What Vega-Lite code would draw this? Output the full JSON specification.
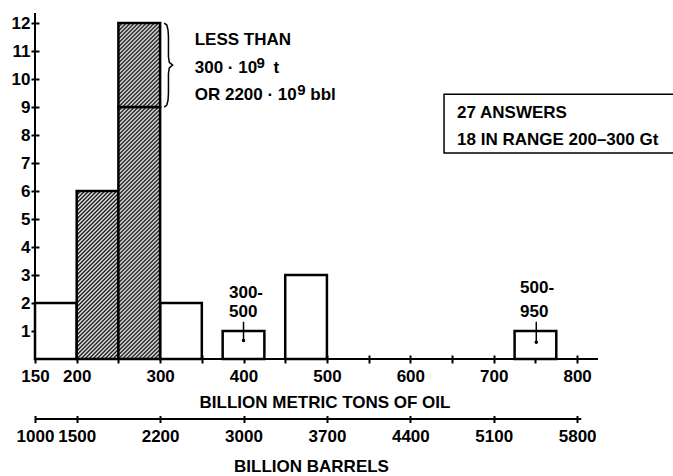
{
  "$schema": "https://vega.github.io/schema/vega-lite/v6.json",
  "width": 563,
  "height": 346,
  "autosize": "none",
  "padding": {"left": 35, "top": 13, "right": 75, "bottom": 117},
  "background": "white",
  "config": {
    "view": {"stroke": null},
    "axis": {
      "labelFont": "Liberation Sans, Arial, sans-serif",
      "labelFontSize": 17,
      "labelFontWeight": "bold",
      "labelColor": "#000",
      "titleFont": "Liberation Sans, Arial, sans-serif",
      "titleFontSize": 17,
      "titleFontWeight": "bold",
      "titleColor": "#000",
      "tickColor": "#000",
      "tickWidth": 2,
      "grid": false,
      "labelFlush": false,
      "labelOverlap": false
    }
  },
  "datasets": {
    "bars": [
      {"x0": 150, "x1": 200, "n0": 0, "n1": 2, "group": "open"},
      {"x0": 300, "x1": 350, "n0": 0, "n1": 2, "group": "open"},
      {"x0": 375, "x1": 425, "n0": 0, "n1": 1, "group": "open"},
      {"x0": 450, "x1": 500, "n0": 0, "n1": 3, "group": "open"},
      {"x0": 725, "x1": 775, "n0": 0, "n1": 1, "group": "open"},
      {"x0": 200, "x1": 250, "n0": 0, "n1": 6, "group": "A"},
      {"x0": 250, "x1": 300, "n0": 0, "n1": 9, "group": "B"},
      {"x0": 250, "x1": 300, "n0": 9, "n1": 12, "group": "C"}
    ],
    "axislines": [
      {"x0": 150, "x1": 825, "n0": 0, "n1": 0},
      {"x0": 150, "x1": 150, "n0": 0, "n1": 12.36},
      {"x0": 150, "x1": 805, "n0": -2.143, "n1": -2.143}
    ],
    "brace": [
      {"i": 0, "x": 305, "y": 12.0},
      {"i": 1, "x": 308, "y": 11.93},
      {"i": 2, "x": 309.5, "y": 11.75},
      {"i": 3, "x": 310, "y": 11.5},
      {"i": 4, "x": 310, "y": 10.8},
      {"i": 5, "x": 311, "y": 10.6},
      {"i": 6, "x": 315, "y": 10.5},
      {"i": 7, "x": 311, "y": 10.4},
      {"i": 8, "x": 310, "y": 10.2},
      {"i": 9, "x": 310, "y": 9.5},
      {"i": 10, "x": 309.5, "y": 9.25},
      {"i": 11, "x": 308, "y": 9.07},
      {"i": 12, "x": 305, "y": 9.0}
    ],
    "notes": [
      {"x": 341.5, "y": 11.2, "text": "LESS THAN"},
      {"x": 341.5, "y": 10.2, "text": "300 · 10"},
      {"x": 436, "y": 10.2, "text": "t"},
      {"x": 341.5, "y": 9.25, "text": "OR 2200 · 10"},
      {"x": 480, "y": 9.25, "text": "bbl"},
      {"x": 656, "y": 8.61, "text": "27 ANSWERS"},
      {"x": 656, "y": 7.64, "text": "18 IN RANGE 200–300 Gt"},
      {"x": 382.6, "y": 2.18, "text": "300-"},
      {"x": 382.6, "y": 1.5, "text": "500"},
      {"x": 731.5, "y": 2.36, "text": "500-"},
      {"x": 731.5, "y": 1.5, "text": "950"}
    ],
    "sups": [
      {"x": 415.5, "y": 10.38, "text": "9"},
      {"x": 464.5, "y": 9.43, "text": "9"}
    ],
    "pointers": [
      {"x": 400, "y0": 1.33, "y1": 0.66},
      {"x": 751, "y0": 1.33, "y1": 0.6}
    ],
    "box": [
      {"x0": 640.4, "x1": 960, "n0": 7.36, "n1": 9.46}
    ]
  },
  "resolve": {"axis": {"x": "independent", "y": "independent"}},
  "layer": [
    {
      "data": {"name": "bars"},
      "transform": [{"filter": "datum.group === 'open'"}],
      "mark": {"type": "rect", "fill": "white", "stroke": "black", "strokeWidth": 2.5},
      "encoding": {
        "x": {
          "field": "x0", "type": "quantitative",
          "scale": {"domain": [150, 825], "nice": false, "zero": false},
          "axis": {
            "title": "BILLION METRIC TONS OF OIL",
            "values": [150, 200, 250, 300, 350, 400, 450, 500, 550, 600, 650, 700, 750, 800],
            "labelExpr": "datum.value == 150 || datum.value % 100 == 0 ? datum.label : ''",
            "offset": -4, "tickSize": 8, "domain": false, "labelPadding": 5.5,
            "titleY": 52, "titleBaseline": "alphabetic", "titleX": 289.5, "titleAlign": "center"
          }
        },
        "x2": {"field": "x1"},
        "y": {
          "field": "n0", "type": "quantitative",
          "scale": {"domain": [0, 12.36], "nice": false, "zero": false},
          "axis": {
            "title": null,
            "values": [1, 2, 3, 4, 5, 6, 7, 8, 9, 10, 11, 12],
            "offset": -4, "tickSize": 8, "domain": false, "labelPadding": 1
          }
        },
        "y2": {"field": "n1"}
      }
    },
    {
      "data": {"name": "bars"},
      "transform": [{"filter": "datum.group === 'A'"}],
      "mark": {"type": "rect", "stroke": "black", "strokeWidth": 2.5,
        "fill": {"gradient": "linear", "x1": 0, "y1": 0, "x2": 0.4454, "y2": 1.7942, "stops": [
          {"offset":0,"color":"#000"},{"offset":0.00625,"color":"#fff"},{"offset":0.0125,"color":"#000"},{"offset":0.01875,"color":"#fff"},{"offset":0.025,"color":"#000"},{"offset":0.03125,"color":"#fff"},{"offset":0.0375,"color":"#000"},{"offset":0.04375,"color":"#fff"},
          {"offset":0.05,"color":"#000"},{"offset":0.05625,"color":"#fff"},{"offset":0.0625,"color":"#000"},{"offset":0.06875,"color":"#fff"},{"offset":0.075,"color":"#000"},{"offset":0.08125,"color":"#fff"},{"offset":0.0875,"color":"#000"},{"offset":0.09375,"color":"#fff"},
          {"offset":0.1,"color":"#000"},{"offset":0.10625,"color":"#fff"},{"offset":0.1125,"color":"#000"},{"offset":0.11875,"color":"#fff"},{"offset":0.125,"color":"#000"},{"offset":0.13125,"color":"#fff"},{"offset":0.1375,"color":"#000"},{"offset":0.14375,"color":"#fff"},
          {"offset":0.15,"color":"#000"},{"offset":0.15625,"color":"#fff"},{"offset":0.1625,"color":"#000"},{"offset":0.16875,"color":"#fff"},{"offset":0.175,"color":"#000"},{"offset":0.18125,"color":"#fff"},{"offset":0.1875,"color":"#000"},{"offset":0.19375,"color":"#fff"},
          {"offset":0.2,"color":"#000"},{"offset":0.20625,"color":"#fff"},{"offset":0.2125,"color":"#000"},{"offset":0.21875,"color":"#fff"},{"offset":0.225,"color":"#000"},{"offset":0.23125,"color":"#fff"},{"offset":0.2375,"color":"#000"},{"offset":0.24375,"color":"#fff"},
          {"offset":0.25,"color":"#000"},{"offset":0.25625,"color":"#fff"},{"offset":0.2625,"color":"#000"},{"offset":0.26875,"color":"#fff"},{"offset":0.275,"color":"#000"},{"offset":0.28125,"color":"#fff"},{"offset":0.2875,"color":"#000"},{"offset":0.29375,"color":"#fff"},
          {"offset":0.3,"color":"#000"},{"offset":0.30625,"color":"#fff"},{"offset":0.3125,"color":"#000"},{"offset":0.31875,"color":"#fff"},{"offset":0.325,"color":"#000"},{"offset":0.33125,"color":"#fff"},{"offset":0.3375,"color":"#000"},{"offset":0.34375,"color":"#fff"},
          {"offset":0.35,"color":"#000"},{"offset":0.35625,"color":"#fff"},{"offset":0.3625,"color":"#000"},{"offset":0.36875,"color":"#fff"},{"offset":0.375,"color":"#000"},{"offset":0.38125,"color":"#fff"},{"offset":0.3875,"color":"#000"},{"offset":0.39375,"color":"#fff"},
          {"offset":0.4,"color":"#000"},{"offset":0.40625,"color":"#fff"},{"offset":0.4125,"color":"#000"},{"offset":0.41875,"color":"#fff"},{"offset":0.425,"color":"#000"},{"offset":0.43125,"color":"#fff"},{"offset":0.4375,"color":"#000"},{"offset":0.44375,"color":"#fff"},
          {"offset":0.45,"color":"#000"},{"offset":0.45625,"color":"#fff"},{"offset":0.4625,"color":"#000"},{"offset":0.46875,"color":"#fff"},{"offset":0.475,"color":"#000"},{"offset":0.48125,"color":"#fff"},{"offset":0.4875,"color":"#000"},{"offset":0.49375,"color":"#fff"},
          {"offset":0.5,"color":"#000"},{"offset":0.50625,"color":"#fff"},{"offset":0.5125,"color":"#000"},{"offset":0.51875,"color":"#fff"},{"offset":0.525,"color":"#000"},{"offset":0.53125,"color":"#fff"},{"offset":0.5375,"color":"#000"},{"offset":0.54375,"color":"#fff"},
          {"offset":0.55,"color":"#000"},{"offset":0.55625,"color":"#fff"},{"offset":0.5625,"color":"#000"},{"offset":0.56875,"color":"#fff"},{"offset":0.575,"color":"#000"},{"offset":0.58125,"color":"#fff"},{"offset":0.5875,"color":"#000"},{"offset":0.59375,"color":"#fff"},
          {"offset":0.6,"color":"#000"},{"offset":0.60625,"color":"#fff"},{"offset":0.6125,"color":"#000"},{"offset":0.61875,"color":"#fff"},{"offset":0.625,"color":"#000"},{"offset":0.63125,"color":"#fff"},{"offset":0.6375,"color":"#000"},{"offset":0.64375,"color":"#fff"},
          {"offset":0.65,"color":"#000"},{"offset":0.65625,"color":"#fff"},{"offset":0.6625,"color":"#000"},{"offset":0.66875,"color":"#fff"}
        ]}
      },
      "encoding": {
        "x": {"field": "x0", "type": "quantitative", "axis": null},
        "x2": {"field": "x1"},
        "y": {"field": "n0", "type": "quantitative", "axis": null},
        "y2": {"field": "n1"}
      }
    },
    {
      "data": {"name": "bars"},
      "transform": [{"filter": "datum.group === 'B'"}],
      "mark": {"type": "rect", "stroke": "black", "strokeWidth": 2.5,
        "fill": {"gradient": "linear", "x1": 0, "y1": 0, "x2": 0.20453, "y2": 1.23598, "stops": [
          {"offset":0,"color":"#000"},{"offset":0.00625,"color":"#fff"},{"offset":0.0125,"color":"#000"},{"offset":0.01875,"color":"#fff"},{"offset":0.025,"color":"#000"},{"offset":0.03125,"color":"#fff"},{"offset":0.0375,"color":"#000"},{"offset":0.04375,"color":"#fff"},
          {"offset":0.05,"color":"#000"},{"offset":0.05625,"color":"#fff"},{"offset":0.0625,"color":"#000"},{"offset":0.06875,"color":"#fff"},{"offset":0.075,"color":"#000"},{"offset":0.08125,"color":"#fff"},{"offset":0.0875,"color":"#000"},{"offset":0.09375,"color":"#fff"},
          {"offset":0.1,"color":"#000"},{"offset":0.10625,"color":"#fff"},{"offset":0.1125,"color":"#000"},{"offset":0.11875,"color":"#fff"},{"offset":0.125,"color":"#000"},{"offset":0.13125,"color":"#fff"},{"offset":0.1375,"color":"#000"},{"offset":0.14375,"color":"#fff"},
          {"offset":0.15,"color":"#000"},{"offset":0.15625,"color":"#fff"},{"offset":0.1625,"color":"#000"},{"offset":0.16875,"color":"#fff"},{"offset":0.175,"color":"#000"},{"offset":0.18125,"color":"#fff"},{"offset":0.1875,"color":"#000"},{"offset":0.19375,"color":"#fff"},
          {"offset":0.2,"color":"#000"},{"offset":0.20625,"color":"#fff"},{"offset":0.2125,"color":"#000"},{"offset":0.21875,"color":"#fff"},{"offset":0.225,"color":"#000"},{"offset":0.23125,"color":"#fff"},{"offset":0.2375,"color":"#000"},{"offset":0.24375,"color":"#fff"},
          {"offset":0.25,"color":"#000"},{"offset":0.25625,"color":"#fff"},{"offset":0.2625,"color":"#000"},{"offset":0.26875,"color":"#fff"},{"offset":0.275,"color":"#000"},{"offset":0.28125,"color":"#fff"},{"offset":0.2875,"color":"#000"},{"offset":0.29375,"color":"#fff"},
          {"offset":0.3,"color":"#000"},{"offset":0.30625,"color":"#fff"},{"offset":0.3125,"color":"#000"},{"offset":0.31875,"color":"#fff"},{"offset":0.325,"color":"#000"},{"offset":0.33125,"color":"#fff"},{"offset":0.3375,"color":"#000"},{"offset":0.34375,"color":"#fff"},
          {"offset":0.35,"color":"#000"},{"offset":0.35625,"color":"#fff"},{"offset":0.3625,"color":"#000"},{"offset":0.36875,"color":"#fff"},{"offset":0.375,"color":"#000"},{"offset":0.38125,"color":"#fff"},{"offset":0.3875,"color":"#000"},{"offset":0.39375,"color":"#fff"},
          {"offset":0.4,"color":"#000"},{"offset":0.40625,"color":"#fff"},{"offset":0.4125,"color":"#000"},{"offset":0.41875,"color":"#fff"},{"offset":0.425,"color":"#000"},{"offset":0.43125,"color":"#fff"},{"offset":0.4375,"color":"#000"},{"offset":0.44375,"color":"#fff"},
          {"offset":0.45,"color":"#000"},{"offset":0.45625,"color":"#fff"},{"offset":0.4625,"color":"#000"},{"offset":0.46875,"color":"#fff"},{"offset":0.475,"color":"#000"},{"offset":0.48125,"color":"#fff"},{"offset":0.4875,"color":"#000"},{"offset":0.49375,"color":"#fff"},
          {"offset":0.5,"color":"#000"},{"offset":0.50625,"color":"#fff"},{"offset":0.5125,"color":"#000"},{"offset":0.51875,"color":"#fff"},{"offset":0.525,"color":"#000"},{"offset":0.53125,"color":"#fff"},{"offset":0.5375,"color":"#000"},{"offset":0.54375,"color":"#fff"},
          {"offset":0.55,"color":"#000"},{"offset":0.55625,"color":"#fff"},{"offset":0.5625,"color":"#000"},{"offset":0.56875,"color":"#fff"},{"offset":0.575,"color":"#000"},{"offset":0.58125,"color":"#fff"},{"offset":0.5875,"color":"#000"},{"offset":0.59375,"color":"#fff"},
          {"offset":0.6,"color":"#000"},{"offset":0.60625,"color":"#fff"},{"offset":0.6125,"color":"#000"},{"offset":0.61875,"color":"#fff"},{"offset":0.625,"color":"#000"},{"offset":0.63125,"color":"#fff"},{"offset":0.6375,"color":"#000"},{"offset":0.64375,"color":"#fff"},
          {"offset":0.65,"color":"#000"},{"offset":0.65625,"color":"#fff"},{"offset":0.6625,"color":"#000"},{"offset":0.66875,"color":"#fff"},{"offset":0.675,"color":"#000"},{"offset":0.68125,"color":"#fff"},{"offset":0.6875,"color":"#000"},{"offset":0.69375,"color":"#fff"},
          {"offset":0.7,"color":"#000"},{"offset":0.70625,"color":"#fff"},{"offset":0.7125,"color":"#000"},{"offset":0.71875,"color":"#fff"},{"offset":0.725,"color":"#000"},{"offset":0.73125,"color":"#fff"},{"offset":0.7375,"color":"#000"},{"offset":0.74375,"color":"#fff"},
          {"offset":0.75,"color":"#000"},{"offset":0.75625,"color":"#fff"},{"offset":0.7625,"color":"#000"},{"offset":0.76875,"color":"#fff"},{"offset":0.775,"color":"#000"},{"offset":0.78125,"color":"#fff"},{"offset":0.7875,"color":"#000"},{"offset":0.79375,"color":"#fff"},
          {"offset":0.8,"color":"#000"},{"offset":0.80625,"color":"#fff"},{"offset":0.8125,"color":"#000"},{"offset":0.81875,"color":"#fff"},{"offset":0.825,"color":"#000"},{"offset":0.83125,"color":"#fff"},{"offset":0.8375,"color":"#000"},{"offset":0.84375,"color":"#fff"},
          {"offset":0.85,"color":"#000"},{"offset":0.85625,"color":"#fff"},{"offset":0.8625,"color":"#000"},{"offset":0.86875,"color":"#fff"},{"offset":0.875,"color":"#000"},{"offset":0.88125,"color":"#fff"},{"offset":0.8875,"color":"#000"},{"offset":0.89375,"color":"#fff"},
          {"offset":0.9,"color":"#000"},{"offset":0.90625,"color":"#fff"},{"offset":0.9125,"color":"#000"},{"offset":0.91875,"color":"#fff"},{"offset":0.925,"color":"#000"},{"offset":0.93125,"color":"#fff"}
        ]}
      },
      "encoding": {
        "x": {"field": "x0", "type": "quantitative", "axis": null},
        "x2": {"field": "x1"},
        "y": {"field": "n0", "type": "quantitative", "axis": null},
        "y2": {"field": "n1"}
      }
    },
    {
      "data": {"name": "bars"},
      "transform": [{"filter": "datum.group === 'C'"}],
      "mark": {"type": "rect", "stroke": "black", "strokeWidth": 2.5,
        "fill": {"gradient": "linear", "x1": 0, "y1": 0, "x2": 1.51725, "y2": 3.05634, "stops": [
          {"offset":0,"color":"#000"},{"offset":0.00625,"color":"#fff"},{"offset":0.0125,"color":"#000"},{"offset":0.01875,"color":"#fff"},{"offset":0.025,"color":"#000"},{"offset":0.03125,"color":"#fff"},{"offset":0.0375,"color":"#000"},{"offset":0.04375,"color":"#fff"},
          {"offset":0.05,"color":"#000"},{"offset":0.05625,"color":"#fff"},{"offset":0.0625,"color":"#000"},{"offset":0.06875,"color":"#fff"},{"offset":0.075,"color":"#000"},{"offset":0.08125,"color":"#fff"},{"offset":0.0875,"color":"#000"},{"offset":0.09375,"color":"#fff"},
          {"offset":0.1,"color":"#000"},{"offset":0.10625,"color":"#fff"},{"offset":0.1125,"color":"#000"},{"offset":0.11875,"color":"#fff"},{"offset":0.125,"color":"#000"},{"offset":0.13125,"color":"#fff"},{"offset":0.1375,"color":"#000"},{"offset":0.14375,"color":"#fff"},
          {"offset":0.15,"color":"#000"},{"offset":0.15625,"color":"#fff"},{"offset":0.1625,"color":"#000"},{"offset":0.16875,"color":"#fff"},{"offset":0.175,"color":"#000"},{"offset":0.18125,"color":"#fff"},{"offset":0.1875,"color":"#000"},{"offset":0.19375,"color":"#fff"},
          {"offset":0.2,"color":"#000"},{"offset":0.20625,"color":"#fff"},{"offset":0.2125,"color":"#000"},{"offset":0.21875,"color":"#fff"},{"offset":0.225,"color":"#000"},{"offset":0.23125,"color":"#fff"},{"offset":0.2375,"color":"#000"},{"offset":0.24375,"color":"#fff"},
          {"offset":0.25,"color":"#000"},{"offset":0.25625,"color":"#fff"},{"offset":0.2625,"color":"#000"},{"offset":0.26875,"color":"#fff"},{"offset":0.275,"color":"#000"},{"offset":0.28125,"color":"#fff"},{"offset":0.2875,"color":"#000"},{"offset":0.29375,"color":"#fff"},
          {"offset":0.3,"color":"#000"},{"offset":0.30625,"color":"#fff"},{"offset":0.3125,"color":"#000"},{"offset":0.31875,"color":"#fff"},{"offset":0.325,"color":"#000"},{"offset":0.33125,"color":"#fff"},{"offset":0.3375,"color":"#000"},{"offset":0.34375,"color":"#fff"},
          {"offset":0.35,"color":"#000"},{"offset":0.35625,"color":"#fff"},{"offset":0.3625,"color":"#000"},{"offset":0.36875,"color":"#fff"},{"offset":0.375,"color":"#000"},{"offset":0.38125,"color":"#fff"},{"offset":0.3875,"color":"#000"},{"offset":0.39375,"color":"#fff"},
          {"offset":0.4,"color":"#000"},{"offset":0.40625,"color":"#fff"}
        ]}
      },
      "encoding": {
        "x": {"field": "x0", "type": "quantitative", "axis": null},
        "x2": {"field": "x1"},
        "y": {"field": "n0", "type": "quantitative", "axis": null},
        "y2": {"field": "n1"}
      }
    },
    {
      "data": {"name": "axislines"},
      "mark": {"type": "rule", "stroke": "black", "strokeWidth": 2},
      "encoding": {
        "x": {"field": "x0", "type": "quantitative", "axis": null},
        "x2": {"field": "x1"},
        "y": {"field": "n0", "type": "quantitative", "axis": null},
        "y2": {"field": "n1"}
      }
    },
    {
      "data": {"values": [{"v": 150}]},
      "mark": {"type": "rule", "stroke": "black", "strokeWidth": 0, "opacity": 0},
      "encoding": {
        "x": {
          "field": "v", "type": "quantitative",
          "axis": {
            "orient": "bottom",
            "title": "BILLION BARRELS",
            "values": [150, 200, 300, 400, 500, 600, 700, 800],
            "labelExpr": "datum.value == 150 ? '1000' : datum.value == 200 ? '1500' : datum.value == 300 ? '2200' : datum.value == 400 ? '3000' : datum.value == 500 ? '3700' : datum.value == 600 ? '4400' : datum.value == 700 ? '5100' : '5800'",
            "offset": 56.5, "tickSize": 7, "domain": false, "labelPadding": 5.5,
            "titleY": 55.5, "titleBaseline": "alphabetic", "titleX": 276, "titleAlign": "center"
          }
        }
      }
    },
    {
      "data": {"name": "brace"},
      "mark": {"type": "line", "stroke": "black", "strokeWidth": 1.5},
      "encoding": {
        "x": {"field": "x", "type": "quantitative", "axis": null},
        "y": {"field": "y", "type": "quantitative", "axis": null},
        "order": {"field": "i"}
      }
    },
    {
      "data": {"name": "box"},
      "mark": {"type": "rect", "fill": null, "stroke": "black", "strokeWidth": 1.5},
      "encoding": {
        "x": {"field": "x0", "type": "quantitative", "axis": null},
        "x2": {"field": "x1"},
        "y": {"field": "n0", "type": "quantitative", "axis": null},
        "y2": {"field": "n1"}
      }
    },
    {
      "data": {"name": "pointers"},
      "mark": {"type": "rule", "stroke": "black", "strokeWidth": 1.5},
      "encoding": {
        "x": {"field": "x", "type": "quantitative", "axis": null},
        "y": {"field": "y0", "type": "quantitative", "axis": null},
        "y2": {"field": "y1"}
      }
    },
    {
      "data": {"name": "pointers"},
      "mark": {"type": "point", "filled": true, "fill": "black", "size": 12, "opacity": 1},
      "encoding": {
        "x": {"field": "x", "type": "quantitative", "axis": null},
        "y": {"field": "y1", "type": "quantitative", "axis": null}
      }
    },
    {
      "data": {"name": "notes"},
      "mark": {"type": "text", "align": "left", "baseline": "alphabetic", "font": "Liberation Sans, Arial, sans-serif", "fontSize": 17, "fontWeight": "bold", "fill": "black"},
      "encoding": {
        "x": {"field": "x", "type": "quantitative", "axis": null},
        "y": {"field": "y", "type": "quantitative", "axis": null},
        "text": {"field": "text"}
      }
    },
    {
      "data": {"name": "sups"},
      "mark": {"type": "text", "align": "left", "baseline": "alphabetic", "font": "Liberation Sans, Arial, sans-serif", "fontSize": 15, "fontWeight": "bold", "fill": "black"},
      "encoding": {
        "x": {"field": "x", "type": "quantitative", "axis": null},
        "y": {"field": "y", "type": "quantitative", "axis": null},
        "text": {"field": "text"}
      }
    }
  ]
}
